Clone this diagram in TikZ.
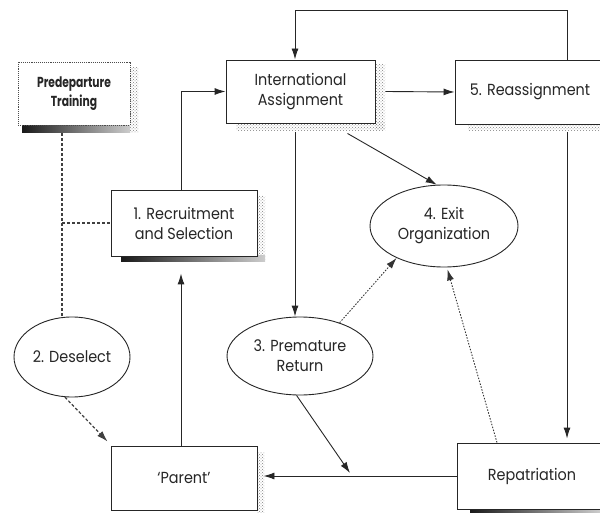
\documentclass[tikz,border=0pt]{standalone}
\usepackage{fontspec}
\setmainfont{Poppins}[FakeStretch=0.9]
\newfontfamily\narrowfont{Poppins}[FakeStretch=0.74]
\usetikzlibrary{arrows.meta,shapes.geometric,calc,patterns}

\tikzset{
  box/.style={draw=black!85, line width=0.9pt, fill=white, inner sep=0pt,
    align=center, text=black!85, font=\fontsize{16}{20}\selectfont},
  oval/.style={ellipse, draw=black!85, line width=0.9pt, fill=white, inner sep=0pt,
    align=center, text=black!85, font=\fontsize{16}{20}\selectfont},
  flow/.style={draw=black!85, line width=0.9pt},
  tip/.style={-{Latex[length=11pt,width=7pt]}},
  dashline/.style={draw=black!75, line width=1.2pt, dash pattern=on 3pt off 2pt},
  dotline/.style={draw=black!80, line width=0.9pt, dash pattern=on 1.5pt off 1.5pt},
  speck/.style={pattern=crosshatch dots, pattern color=black!50, draw=none},
  darkshade/.style={left color=black!90, right color=black!20, draw=none},
}

\begin{document}
\begin{tikzpicture}[x=1pt,y=-1pt]
\useasboundingbox (0,0) rectangle (600,513);

% drop shadows behind the boxes
\fill[speck] (130,68) rectangle (138,133);
\fill[darkshade] (22,125) rectangle (130,133);
\fill[speck] (375,65) rectangle (385,130);
\fill[speck] (236,123) rectangle (385,131);
\fill[speck] (468,124) rectangle (600,131);
\fill[speck] (257,196) rectangle (265,262);
\fill[darkshade] (121,256) rectangle (265,262);
\fill[speck] (257,452) rectangle (264,513);
\fill[darkshade] (470,509) rectangle (600,513);

% stages
\node[box, draw=black!70, densely dotted, minimum width=112pt, minimum height=63pt,
  font=\narrowfont\fontsize{14.5}{18.5}\selectfont\bfseries] (pre) at (74,93.5) {Predeparture\\Training};
\node[box, minimum width=149pt, minimum height=63pt] (ia) at (300.5,91.5) {International\\Assignment};
\node[box, minimum width=150pt, minimum height=64pt] (re5) at (530,92) {5. Reassignment};
\node[box, minimum width=146pt, minimum height=66pt] (rec) at (184,223) {1. Recruitment\\and Selection};
\node[box, minimum width=146pt, minimum height=64pt] (par) at (184,478) {`Parent'};
\node[box, minimum width=150pt, minimum height=66pt] (rep) at (532,476) {Repatriation};
\node[oval, minimum width=116pt, minimum height=80pt] (des) at (72,357) {2. Deselect};
\node[oval, minimum width=146pt, minimum height=78pt] (ret) at (300,356) {3. Premature\\Return};
\node[oval, minimum width=148pt, minimum height=82pt] (exit) at (444,226) {4. Exit\\Organization};

% routing columns
\coordinate (lx) at (295,0);
\coordinate (rx) at (567,0);
\coordinate (ux) at (181,0);
\coordinate (dx) at (62,0);
\coordinate (qx) at (497,0);
\coordinate (top) at (0,10);
\coordinate (hit) at (350,473);

% flows
\draw[flow,tip] (re5.north -| rx) |- (top -| lx) -- (ia.north -| lx);
\draw[flow,tip] ($(ia.east)+(10,0)$) -- (re5.west);
\draw[flow,tip] (rec.north -| ux) |- (ia.west);
\draw[flow,tip] (par.north -| ux) -- ($(rec.south -| ux)+(0,17)$);
\draw[flow,tip] ($(ia.south -| lx)+(0,9)$) -- (ret.north -| lx);
\draw[flow,tip] ($(ia.south)+(47,10)$) -- (exit.100);
\draw[flow,tip] (ret.-95) -- (hit);
\draw[flow,tip] (rep.west) -- ($(par.east |- rep.west)+(6,0)$);
\draw[flow,tip] ($(re5.south -| rx)+(0,8)$) -- ($(rep.north -| rx)+(0,-4)$);

% dotted flows into exit
\draw[dotline,tip] (ret.40) -- (exit.-146);
\draw[dotline,tip,shorten >=2pt] (rep.north -| qx) -- (exit.-86);

% dashed links
\draw[dashline] ($(pre.south -| dx)+(0,8)$) -- (des.north -| dx);
\draw[dashline] (rec.west -| dx) -- (rec.west);
\draw[dashline,tip] (des.-100) -- ($(par.north west)+(-3,-4)$);
\end{tikzpicture}
\end{document}
